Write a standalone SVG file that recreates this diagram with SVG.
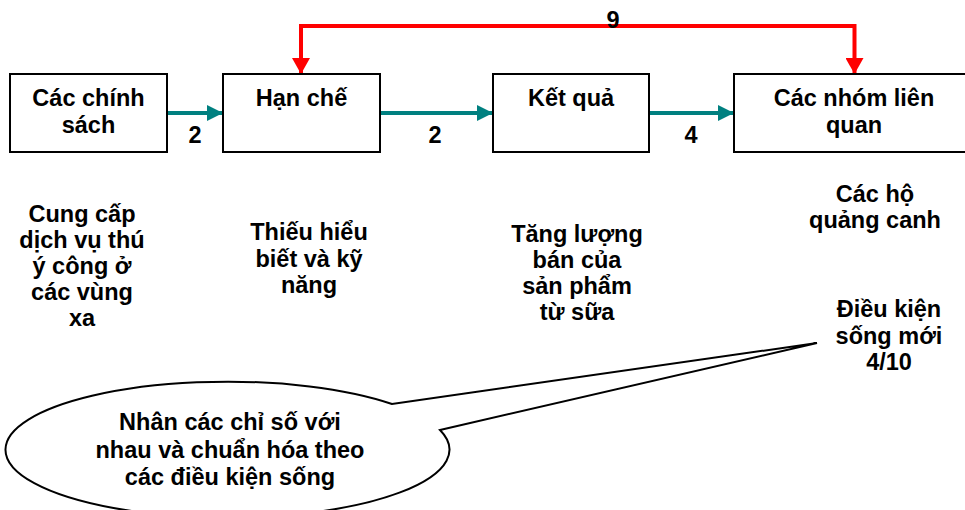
<svg xmlns="http://www.w3.org/2000/svg" width="965" height="510" viewBox="0 0 965 510">
<style>
text{font-family:"Liberation Sans",Arial,sans-serif;font-weight:bold;font-size:23.5px;fill:#000;text-anchor:middle}
.box{fill:#fff;stroke:#000;stroke-width:2}
.teal{stroke:#008080;stroke-width:4;fill:none}
.red{stroke:#FF0000;stroke-width:4;fill:none}
</style>
<defs>
<marker id="at" markerUnits="userSpaceOnUse" markerWidth="16" markerHeight="16" refX="16" refY="8" orient="auto"><path d="M0,0 L16,8 L0,16 Z" fill="#008080"/></marker>
<marker id="ar" markerUnits="userSpaceOnUse" markerWidth="16" markerHeight="18" refX="16" refY="9" orient="auto-start-reverse"><path d="M0,0 L16,9 L0,18 Z" fill="#FF0000"/></marker>
</defs>
<g id="connectors">
<line class="teal" x1="167" y1="113" x2="223" y2="113" marker-end="url(#at)"/>
<line class="teal" x1="380" y1="113" x2="493" y2="113" marker-end="url(#at)"/>
<line class="teal" x1="649" y1="113" x2="734" y2="113" marker-end="url(#at)"/>
<path class="red" d="M301,74 L301,26 L854.5,26 L854.5,74" marker-start="url(#ar)" marker-end="url(#ar)"/>
<text x="195" y="143">2</text>
<text x="435" y="143">2</text>
<text x="691" y="143">4</text>
<text x="613" y="28">9</text>
</g>
<g id="n1"><rect class="box" x="10" y="74" width="157" height="78"/><text x="88.5" y="106">Các chính</text><text x="88.5" y="133">sách</text></g>
<g id="n2"><rect class="box" x="223" y="74" width="157" height="78"/><text x="301.5" y="106">Hạn chế</text></g>
<g id="n3"><rect class="box" x="493" y="74" width="156" height="78"/><text x="571" y="106">Kết quả</text></g>
<g id="n4"><rect class="box" x="734" y="74" width="240" height="78"/><text x="854" y="106">Các nhóm liên</text><text x="854" y="133">quan</text></g>
<g id="t1"><text x="82" y="222">Cung cấp</text><text x="82" y="248">dịch vụ thú</text><text x="82" y="274">ý công ở</text><text x="82" y="300">các vùng</text><text x="82" y="326">xa</text></g>
<g id="t2"><text x="309" y="240">Thiếu hiểu</text><text x="309" y="267">biết và kỹ</text><text x="309" y="293">năng</text></g>
<g id="t3"><text x="577" y="242">Tăng lượng</text><text x="577" y="268">bán của</text><text x="577" y="294">sản phẩm</text><text x="577" y="320">từ sữa</text></g>
<g id="t4"><text x="875" y="202">Các hộ</text><text x="875" y="228">quảng canh</text></g>
<g id="t5"><text x="889" y="317">Điều kiện</text><text x="889" y="344">sống mới</text><text x="889" y="370">4/10</text></g>
<g id="callout">
<path d="M440,430 L817,343 L392,404 A222,68 0 1 0 440,430 Z" fill="#fff" stroke="#000" stroke-width="2" stroke-linejoin="miter"/>
<text x="230" y="430">Nhân các chỉ số với</text><text x="230" y="458">nhau và chuẩn hóa theo</text><text x="230" y="485">các điều kiện sống</text>
</g>
</svg>
